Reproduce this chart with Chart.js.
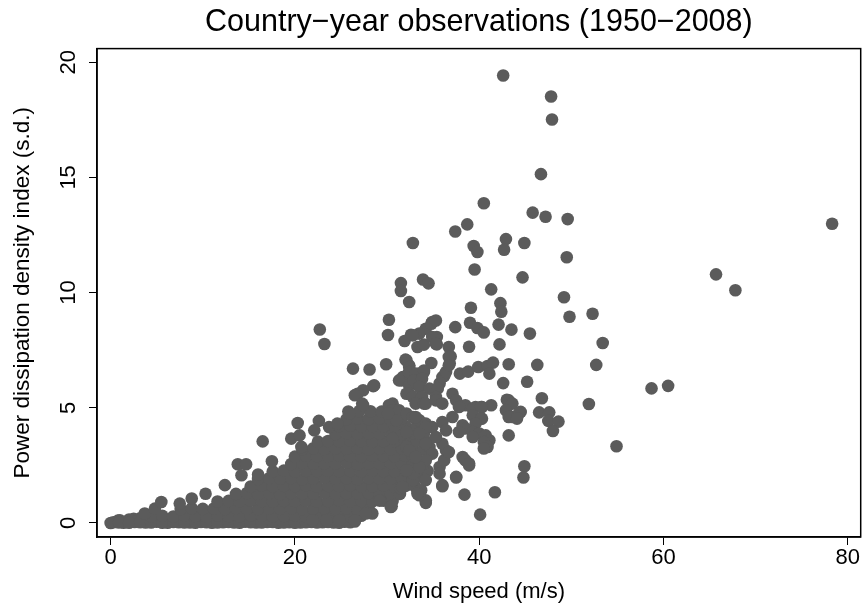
<!DOCTYPE html>
<html>
<head>
<meta charset="utf-8">
<script src="https://cdn.jsdelivr.net/npm/chart.js@4.4.1/dist/chart.umd.min.js"></script>
<style>
    html, body { margin: 0; padding: 0; background: #fff; }
    #wrap { width: 867px; height: 607px; }
</style>
</head>
<body>
<div id="wrap"><canvas id="scatterChart" width="867" height="607"></canvas></div>
<script>
// [wind speed (m/s), power dissipation density index (s.d.)]
const coreObs = [
    [0.0, 0.00], [0.8, 0.10], [2.0, 0.15], [3.2, 0.20], [1.0, 0.12], [2.5, 0.18], [3.5, 0.22],
    [0.3, 0.03], [1.4, 0.01], [2.6, 0.04], [3.8, 0.02], [5.0, 0.05], [6.2, 0.01], [7.4, 0.03], [8.6, 0.02],
    [9.8, 0.04], [11.0, 0.01], [12.2, 0.03], [13.4, 0.02], [14.6, 0.05], [15.8, 0.02], [17.0, 0.04],
    [18.2, 0.01], [19.4, 0.03], [20.6, 0.02], [21.8, 0.04], [23.0, 0.03], [24.2, 0.02], [25.4, 0.05], [26.5, 0.06],
    [0.9, 0.02], [2.0, 0.01], [3.2, 0.03], [4.4, 0.02], [5.6, 0.01], [6.8, 0.04], [8.0, 0.02], [9.2, 0.01],
    [10.4, 0.03], [11.6, 0.02], [12.8, 0.04], [14.0, 0.01], [15.2, 0.03], [16.4, 0.02], [17.6, 0.04], [18.8, 0.02],
    [20.0, 0.01], [21.2, 0.03], [22.4, 0.02], [23.6, 0.04], [24.8, 0.01], [26.0, 0.03],
    [4.4, 0.29], [5.6, 0.31], [6.8, 0.28], [8.0, 0.33], [9.2, 0.30], [10.4, 0.27], [11.6, 0.32], [12.8, 0.30],
    [14.0, 0.29], [15.2, 0.33], [16.4, 0.31], [17.6, 0.28], [18.8, 0.30], [20.0, 0.33], [21.2, 0.29],
    [22.4, 0.31], [23.6, 0.30], [24.8, 0.32], [26.0, 0.28], [27.2, 0.31],
    [7.6, 0.60], [8.8, 0.64], [10.0, 0.61], [11.2, 0.63], [12.4, 0.60], [13.6, 0.65], [14.8, 0.62], [16.0, 0.60],
    [17.2, 0.63], [18.4, 0.61], [19.6, 0.64], [20.8, 0.60], [22.0, 0.62], [23.2, 0.65], [24.4, 0.61],
    [25.6, 0.63], [26.8, 0.60], [28.0, 0.62],
    [11.6, 0.93], [12.8, 0.96], [14.0, 0.94], [15.2, 0.97], [16.4, 0.95], [17.6, 0.92], [18.8, 0.96], [20.0, 0.94],
    [21.2, 0.97], [22.4, 0.93], [23.6, 0.95], [24.8, 0.98], [26.0, 0.94], [27.2, 0.96], [28.4, 0.93], [29.6, 0.97], [30.6, 0.95],
    [13.6, 1.26], [14.8, 1.30], [16.0, 1.27], [17.2, 1.29], [18.4, 1.25], [19.6, 1.30], [20.8, 1.28], [22.0, 1.27],
    [23.2, 1.31], [24.4, 1.26], [25.6, 1.29], [26.8, 1.28], [28.0, 1.30], [29.2, 1.27], [30.4, 1.29], [31.4, 1.26],
    [15.2, 1.58], [16.4, 1.62], [17.6, 1.59], [18.8, 1.61], [20.0, 1.60], [21.2, 1.63], [22.4, 1.58], [23.6, 1.61],
    [24.8, 1.60], [26.0, 1.62], [27.2, 1.59], [28.4, 1.60], [29.6, 1.63], [30.8, 1.58], [32.0, 1.61], [33.0, 1.60],
    [16.0, 1.91], [17.2, 1.94], [18.4, 1.92], [19.6, 1.95], [20.8, 1.90], [22.0, 1.93], [23.2, 1.96], [24.4, 1.92],
    [25.6, 1.94], [26.8, 1.91], [28.0, 1.95], [29.2, 1.93], [30.4, 1.92], [31.6, 1.94], [32.8, 1.90], [34.0, 1.93],
    [17.6, 2.24], [18.8, 2.27], [20.0, 2.23], [21.2, 2.26], [22.4, 2.25], [23.6, 2.28], [24.8, 2.24], [26.0, 2.26],
    [27.2, 2.23], [28.4, 2.27], [29.6, 2.25], [30.8, 2.24], [32.0, 2.28], [33.2, 2.25], [34.4, 2.26],
    [19.6, 2.56], [20.8, 2.60], [22.0, 2.57], [23.2, 2.59], [24.4, 2.58], [25.6, 2.61], [26.8, 2.56],
    [28.0, 2.59], [29.2, 2.58], [30.4, 2.60], [31.6, 2.57], [32.8, 2.59], [34.0, 2.58],
    [20.0, 2.88], [21.2, 2.92], [22.4, 2.90], [23.6, 2.89], [24.8, 2.93], [26.0, 2.90], [27.2, 2.88],
    [28.4, 2.92], [29.6, 2.91], [30.8, 2.89], [32.0, 2.92], [33.2, 2.90],
    [20.8, 3.20], [22.0, 3.24], [23.2, 3.21], [24.4, 3.23], [25.6, 3.22], [26.8, 3.25], [28.0, 3.20],
    [29.2, 3.23], [30.4, 3.21], [31.6, 3.24], [32.8, 3.22], [34.0, 3.20],
    [22.5, 3.53], [23.6, 3.56], [24.8, 3.54], [26.0, 3.57], [27.2, 3.55], [28.4, 3.53], [29.6, 3.56],
    [30.8, 3.55], [32.0, 3.54], [33.2, 3.57], [34.2, 3.55],
    [24.4, 3.86], [25.6, 3.90], [26.8, 3.87], [28.0, 3.89], [29.2, 3.88], [30.4, 3.91], [31.6, 3.86],
    [32.8, 3.89], [34.0, 3.88],
    [24.8, 4.19], [26.0, 4.22], [27.2, 4.20], [28.4, 4.21], [29.6, 4.18], [30.8, 4.22], [32.0, 4.20], [33.2, 4.19],
    [25.6, 4.50], [26.8, 4.53], [28.0, 4.51], [29.2, 4.54], [30.4, 4.50], [31.6, 4.52],
    [25.8, 4.84], [27.0, 4.86], [28.2, 4.85], [29.4, 4.83], [30.6, 4.87]
];

const coreEdgeObs = [
    [3.7, 0.41], [4.8, 0.62], [5.5, 0.91], [7.5, 0.84], [8.8, 1.06], [10.3, 1.27], [12.4, 1.64],
    [13.8, 2.55], [14.7, 2.55], [14.2, 2.07], [16.0, 2.10], [16.5, 3.54], [17.5, 2.68],
    [19.6, 3.66], [20.5, 3.80], [20.3, 4.34], [20.7, 3.30], [22.6, 4.43], [22.1, 4.02],
    [23.7, 4.16], [24.6, 4.31], [25.9, 4.75], [21.9, 0.12], [23.4, 0.12], [24.8, 0.12], [26.5, 0.12]
];

const midCloudObs = [
    [22.7, 8.40], [23.2, 7.77], [30.2, 8.82], [30.1, 8.16], [34.9, 8.72], [34.2, 8.43], [33.5, 8.22], [32.6, 8.17],
    [37.4, 8.50], [39.0, 8.69], [39.8, 8.46], [40.5, 8.27], [42.1, 8.61], [43.5, 8.39], [45.5, 8.22],
    [31.9, 7.90], [33.3, 7.64], [34.0, 7.74], [35.4, 8.07], [35.4, 7.75], [36.7, 7.64], [36.9, 7.23], [36.8, 6.92],
    [38.9, 7.65], [42.2, 7.75], [34.8, 8.65], [35.3, 8.79], [34.9, 8.07], [35.3, 7.78], [32.8, 8.14], [36.7, 7.20],
    [26.3, 6.70], [28.1, 6.66], [29.9, 6.89], [32.0, 7.09], [32.4, 6.84], [34.8, 6.94], [32.1, 7.06], [32.4, 6.77],
    [37.9, 6.48], [38.8, 6.57], [39.9, 6.77], [40.9, 6.81], [41.5, 6.96], [41.1, 6.48], [43.2, 6.89], [46.3, 6.86],
    [42.6, 6.07], [45.2, 6.13], [28.5, 5.94], [27.4, 5.76], [26.8, 5.61], [26.5, 5.54], [28.6, 5.97], [27.3, 5.18], [27.4, 5.11],
    [31.6, 6.19], [32.6, 6.33], [33.5, 6.48], [34.0, 6.55], [36.2, 6.38], [35.7, 6.05], [36.0, 6.33], [36.4, 6.55],
    [31.7, 6.33], [32.4, 6.55], [33.1, 6.48], [34.0, 6.62], [31.3, 6.19], [32.4, 5.97], [32.9, 6.19], [33.8, 6.26],
    [33.5, 5.90], [34.6, 5.83], [35.5, 5.83], [32.4, 5.61], [32.1, 5.61], [32.8, 5.47], [33.8, 5.47], [35.3, 5.47],
    [37.1, 5.61], [36.7, 6.84], [30.6, 5.18], [33.1, 5.18], [34.0, 5.18], [34.2, 5.18], [35.3, 5.32], [36.0, 5.18],
    [30.2, 5.11], [30.6, 4.89], [31.3, 4.89], [32.1, 4.75], [32.8, 4.60], [33.5, 4.46], [34.2, 4.31], [34.9, 4.16],
    [33.1, 4.60], [31.0, 4.46], [30.1, 4.75], [34.2, 4.16],
    [46.8, 5.41], [43.0, 5.35], [43.2, 5.32], [43.6, 5.18], [42.9, 4.89], [43.6, 4.60], [44.5, 4.82], [44.3, 4.75],
    [43.2, 4.60], [44.1, 4.53], [43.2, 3.80],
    [46.5, 4.80], [47.6, 4.80], [47.5, 4.43], [48.6, 4.40], [48.0, 3.99],
    [37.5, 5.32], [38.5, 5.11], [39.6, 5.03], [40.3, 5.03], [41.3, 5.11], [37.8, 5.03], [39.3, 4.96], [40.2, 5.03],
    [39.3, 4.67], [40.2, 4.53], [40.3, 4.53], [39.6, 4.31], [37.1, 4.60], [36.0, 4.38], [36.4, 4.02],
    [38.2, 4.24], [38.5, 4.10], [39.3, 3.95], [40.0, 3.88], [37.8, 3.95], [39.3, 3.73], [40.7, 3.80],
    [41.1, 3.59], [40.5, 3.51], [40.9, 3.30], [40.5, 3.23],
    [38.2, 2.86], [38.5, 2.72], [38.9, 2.50], [38.9, 2.58], [44.9, 2.46], [44.8, 1.97],
    [41.7, 1.33], [40.1, 0.36], [38.4, 1.23], [37.5, 1.97], [37.5, 2.00], [36.0, 1.59], [36.0, 1.64],
    [34.2, 0.87], [34.2, 0.98], [33.5, 1.20], [33.7, 1.42], [33.3, 1.34], [33.3, 1.27],
    [30.4, 0.69], [30.5, 0.72], [29.2, 0.97], [28.4, 0.41], [27.7, 0.41],
    [31.5, 1.49], [31.7, 1.56], [32.8, 2.00], [32.8, 1.86], [32.8, 2.14], [34.2, 1.86],
    [35.7, 2.43], [35.7, 2.14], [36.2, 2.72], [34.6, 3.30], [36.4, 3.15], [36.0, 3.44], [36.7, 3.08],
    [35.3, 3.73], [33.5, 3.88], [34.2, 3.44], [34.9, 3.01], [34.2, 2.72], [32.8, 2.86], [32.1, 3.30],
    [33.5, 2.43], [32.1, 3.95], [30.6, 3.66], [32.4, 3.15], [33.1, 2.86], [32.1, 2.29]
];

const highTailObs = [
    [42.6, 19.42], [47.8, 18.51], [47.9, 17.51], [46.7, 15.14], [40.5, 13.88], [45.8, 13.47], [47.2, 13.29],
    [49.6, 13.19], [38.7, 12.96], [37.4, 12.65], [32.8, 12.15], [42.9, 12.32], [44.9, 12.15], [39.4, 12.02],
    [39.8, 11.76], [42.7, 11.86], [49.5, 11.53], [39.5, 11.00], [44.7, 10.66], [33.9, 10.57], [31.5, 10.41],
    [34.5, 10.40], [41.3, 10.14], [31.5, 10.07], [49.2, 9.80], [32.4, 9.59], [42.3, 9.54], [39.1, 9.34],
    [42.4, 9.17], [52.3, 9.08], [49.8, 8.95], [78.3, 12.99], [65.7, 10.79], [67.8, 10.10],
    [53.4, 7.81], [52.7, 6.86], [58.7, 5.84], [60.5, 5.95], [51.9, 5.16], [54.9, 3.33]
];

const windTicks = [0, 20, 40, 60, 80];
const pdiTicks = [0, 5, 10, 15, 20];

const allObs = coreObs.concat(coreEdgeObs, midCloudObs, highTailObs)
    .map(p => ({ x: p[0], y: p[1] }));

const FONT = "'Liberation Sans', Arial, Helvetica, sans-serif";

const framePlugin = {
    id: 'frame',
    afterDraw(chart) {
        const { ctx, chartArea: a } = chart;
        ctx.save();
        ctx.strokeStyle = '#000';
        ctx.lineWidth = 1.5;
        ctx.strokeRect(a.left, a.top, a.right - a.left, a.bottom - a.top);
        ctx.restore();
    }
};

// y tick labels rotated like the original
const yTickLabels = {
    id: 'yTickLabels',
    afterDraw(chart) {
        const { ctx } = chart;
        const y = chart.scales.y;
        ctx.save();
        ctx.fillStyle = '#000';
        ctx.font = '22px ' + FONT;
        ctx.textAlign = 'center';
        ctx.textBaseline = 'middle';
        y.ticks.forEach(t => {
            const py = y.getPixelForValue(t.value);
            ctx.save();
            ctx.translate(69, py);
            ctx.rotate(-Math.PI / 2);
            ctx.fillText(String(t.value), 0, 0);
            ctx.restore();
        });
        ctx.restore();
    }
};

const ctx = document.getElementById('scatterChart').getContext('2d');

new Chart(ctx, {
    type: 'scatter',
    data: {
        datasets: [{
            data: allObs,
            backgroundColor: '#5b5b5b',
            borderWidth: 0,
            pointRadius: 6.3,
            pointHoverRadius: 6.3
        }]
    },
    options: {
        responsive: false,
        animation: false,
        events: [],
        layout: { padding: { left: 0, right: 4, top: 0, bottom: 0 } },
        plugins: {
            legend: { display: false },
            tooltip: { enabled: false },
            title: {
                display: true,
                fullSize: false,
                text: 'Country\u2212year observations (1950\u22122008)',
                color: '#000',
                font: { family: FONT, size: 30.5, weight: 'normal' },
                padding: { top: 4, bottom: 8 }
            }
        },
        scales: {
            x: {
                type: 'linear',
                min: -1.48,
                max: 81.4,
                afterBuildTicks: s => { s.ticks = windTicks.map(v => ({ value: v })); },
                afterFit: s => { s.height = 70; },
                grid: { drawOnChartArea: false, drawTicks: true, tickLength: 8, color: '#000', lineWidth: 1 },
                border: { display: true, color: '#000', width: 1.5 },
                ticks: { color: '#000', font: { family: FONT, size: 22 }, padding: 0, maxRotation: 0 },
                title: {
                    display: true,
                    text: 'Wind speed (m/s)',
                    color: '#000',
                    font: { family: FONT, size: 22 },
                    padding: { top: 0, bottom: 2 }
                }
            },
            y: {
                type: 'linear',
                min: -0.61,
                max: 20.59,
                afterBuildTicks: s => { s.ticks = pdiTicks.map(v => ({ value: v })); },
                afterFit: s => { s.width = 97; },
                grid: { drawOnChartArea: false, drawTicks: true, tickLength: 8, color: '#000', lineWidth: 1 },
                border: { display: true, color: '#000', width: 1.5 },
                ticks: { display: false },
                title: {
                    display: true,
                    text: 'Power dissipation density index (s.d.)',
                    color: '#000',
                    font: { family: FONT, size: 22.5 },
                    padding: { top: 9, bottom: 0 }
                }
            }
        }
    },
    plugins: [framePlugin, yTickLabels]
});
</script>
</body>
</html>
